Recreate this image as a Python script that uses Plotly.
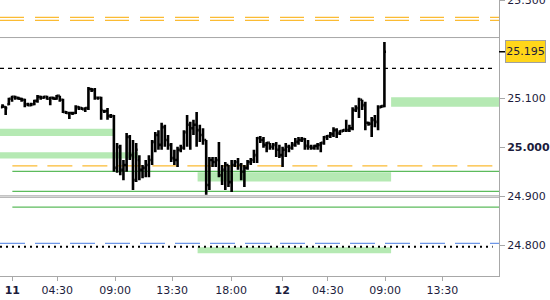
import plotly.graph_objects as go

# ---- data -------------------------------------------------------------
bar_index = list(range(121))
open_ = [25.082, 25.082, 25.088, 25.099, 25.103, 25.101, 25.099, 25.097, 25.088, 25.086,
         25.088, 25.095, 25.103, 25.101, 25.103, 25.099, 25.101, 25.099, 25.105, 25.097,
         25.072, 25.070, 25.070, 25.070, 25.082, 25.080, 25.078, 25.080, 25.119, 25.117,
         25.101, 25.101, 25.074, 25.074, 25.064, 25.064, 24.958, 24.999, 24.954, 24.964,
         25.021, 24.984, 24.933, 24.974, 24.954, 24.958, 24.964, 24.974, 25.011, 25.025,
         25.005, 25.041, 25.015, 25.005, 24.978, 24.974, 24.995, 24.999, 25.031, 25.046,
         25.039, 25.046, 25.035, 25.025, 25.015, 24.923, 24.974, 24.970, 24.974, 24.943,
         24.954, 24.964, 24.929, 24.964, 24.970, 24.964, 24.950, 24.958, 24.970, 24.974,
         24.984, 25.019, 25.015, 25.005, 25.009, 25.001, 25.005, 24.995, 24.984, 24.995,
         25.001, 24.999, 25.005, 25.011, 25.015, 25.017, 25.003, 25.001, 24.999, 25.003,
         25.005, 25.009, 25.021, 25.023, 25.027, 25.035, 25.029, 25.033, 25.035, 25.035,
         25.039, 25.076, 25.080, 25.097, 25.086, 25.050, 25.048, 25.056, 25.052, 25.082,
         25.084]
high = [25.088, 25.084, 25.101, 25.105, 25.105, 25.103, 25.101, 25.099, 25.091, 25.091,
        25.097, 25.107, 25.105, 25.105, 25.105, 25.103, 25.103, 25.107, 25.105, 25.099,
        25.074, 25.072, 25.072, 25.086, 25.084, 25.082, 25.082, 25.123, 25.121, 25.121,
        25.103, 25.103, 25.076, 25.080, 25.068, 25.066, 25.009, 25.005, 24.974, 25.029,
        25.025, 25.015, 25.009, 24.984, 24.964, 24.974, 24.984, 25.015, 25.031, 25.035,
        25.050, 25.046, 25.025, 25.009, 24.995, 25.001, 25.005, 25.035, 25.066, 25.052,
        25.056, 25.072, 25.046, 25.039, 25.015, 24.980, 24.980, 24.980, 25.011, 24.964,
        24.970, 24.964, 24.974, 24.974, 24.978, 24.968, 24.964, 24.974, 24.978, 24.995,
        25.021, 25.023, 25.021, 25.011, 25.009, 25.009, 25.011, 25.005, 25.001, 25.009,
        25.005, 25.011, 25.019, 25.021, 25.021, 25.019, 25.015, 25.005, 25.005, 25.009,
        25.011, 25.023, 25.025, 25.031, 25.041, 25.039, 25.035, 25.037, 25.056, 25.046,
        25.082, 25.086, 25.101, 25.097, 25.093, 25.052, 25.062, 25.066, 25.086, 25.086,
        25.215]
low = [25.080, 25.066, 25.086, 25.093, 25.097, 25.097, 25.093, 25.082, 25.084, 25.084,
       25.086, 25.091, 25.097, 25.099, 25.097, 25.086, 25.097, 25.097, 25.093, 25.070,
       25.068, 25.058, 25.066, 25.068, 25.076, 25.076, 25.072, 25.076, 25.113, 25.097,
       25.097, 25.056, 25.070, 25.056, 25.060, 24.950, 24.948, 24.943, 24.933, 24.950,
       24.974, 24.913, 24.929, 24.933, 24.937, 24.939, 24.939, 24.964, 24.990, 24.995,
       24.995, 25.001, 24.995, 24.970, 24.964, 24.960, 24.990, 24.995, 25.001, 24.995,
       25.025, 25.001, 25.011, 25.005, 24.903, 24.913, 24.960, 24.960, 24.939, 24.923,
       24.913, 24.919, 24.909, 24.960, 24.954, 24.933, 24.919, 24.954, 24.964, 24.968,
       24.968, 25.009, 24.999, 24.990, 24.995, 24.995, 24.980, 24.978, 24.960, 24.980,
       24.990, 24.995, 25.001, 25.005, 25.011, 24.995, 24.995, 24.995, 24.995, 24.995,
       24.990, 25.005, 25.015, 25.019, 25.021, 25.019, 25.025, 25.031, 25.031, 25.031,
       25.035, 25.072, 25.060, 25.076, 25.035, 25.044, 25.021, 25.041, 25.035, 25.080,
       25.082]
close = [25.084, 25.080, 25.099, 25.103, 25.101, 25.099, 25.097, 25.088, 25.086, 25.088,
         25.095, 25.103, 25.101, 25.103, 25.099, 25.101, 25.099, 25.105, 25.097, 25.072,
         25.070, 25.070, 25.070, 25.082, 25.080, 25.078, 25.080, 25.119, 25.117, 25.101,
         25.101, 25.076, 25.074, 25.064, 25.064, 24.958, 25.001, 24.954, 24.964, 25.021,
         24.984, 24.933, 24.995, 24.954, 24.958, 24.964, 24.974, 25.011, 25.025, 25.005,
         25.041, 25.015, 25.005, 24.978, 24.974, 24.995, 24.999, 25.031, 25.046, 25.039,
         25.046, 25.035, 25.025, 25.015, 24.923, 24.974, 24.970, 24.974, 24.943, 24.954,
         24.964, 24.929, 24.964, 24.970, 24.964, 24.950, 24.958, 24.970, 24.974, 24.984,
         25.019, 25.015, 25.005, 25.009, 25.001, 25.005, 24.995, 24.984, 24.995, 25.001,
         24.999, 25.005, 25.011, 25.015, 25.017, 25.003, 25.001, 24.999, 25.003, 25.005,
         25.009, 25.021, 25.023, 25.027, 25.035, 25.029, 25.033, 25.035, 25.035, 25.039,
         25.076, 25.080, 25.097, 25.086, 25.050, 25.048, 25.056, 25.052, 25.082, 25.084,
         25.195]

tick_pos = [3.1, 17.2, 35.4, 53.3, 71.8, 87.9, 102.2, 120.2, 138.2]
tick_text = ["<b>11</b>", "04:30", "09:00", "13:30", "18:00", "<b>12</b>", "04:30", "09:00", "13:30"]

price_ticks = [24.8, 24.9, 25.0, 25.1, 25.3]
price_tick_text = ["24.800", "24.900", "<b>25.000</b>", "25.100", "25.300"]

# zones (light green bands): start/end bar, top/bottom price
zone_start = [-1.0, -1.0, 61.3, 61.3, 122.1]
zone_end = [34.7, 42.6, 122.1, 122.1, 157.0]
zone_top = [25.038, 24.990, 24.949, 24.796, 25.102]
zone_bottom = [25.023, 24.977, 24.930, 24.784, 25.083]

# horizontal levels
orange_levels = [25.265, 25.259]
orange_day_level = 24.962
gray_levels = [25.224, 24.901, 24.898]
green_levels = [24.951, 24.910, 24.878]
black_dash_level = 25.161
blue_level = 24.804
dotted_level = 24.797
day_start_bar = 3.1
line_end_bar = 154.0
last_price = 25.195

x_range = [-0.785, 156.0]
y_range = [24.7374, 25.3006]

# ---- figure -----------------------------------------------------------
fig = go.Figure()

shapes = []
for x0, x1, yt, yb in zip(zone_start, zone_end, zone_top, zone_bottom):
    shapes.append(dict(type="rect", xref="x", yref="y", x0=x0, x1=x1, y0=yb, y1=yt,
                       fillcolor="#b5e9b3", line=dict(width=0), layer="below"))

def hline(y, x0, x1, color, width, dash="solid"):
    shapes.append(dict(type="line", xref="x", yref="y", x0=x0, x1=x1, y0=y, y1=y,
                       line=dict(color=color, width=width, dash=dash), layer="below"))

for lv in orange_levels:
    hline(lv, x_range[0], x_range[1], "#fbbb33", 1.3, "24px,11px")
for lv in gray_levels:
    hline(lv, x_range[0], x_range[1], "#a8a8a8", 1)
hline(black_dash_level, x_range[0], line_end_bar, "#000000", 1.3, "4px,4px")
hline(orange_day_level, day_start_bar, line_end_bar, "#fbbb33", 1.3, "25px,10px")
for lv in green_levels:
    hline(lv, day_start_bar, x_range[1], "#5cbb5c", 1.2)
hline(blue_level, x_range[0], x_range[1], "#6d96e8", 1.3, "25px,10px")
hline(dotted_level, x_range[0], line_end_bar, "#000000", 2, "2px,4px")

# current price tick on the axis
shapes.append(dict(type="line", xref="paper", yref="y", x0=1, x1=1.012, y0=last_price, y1=last_price,
                   line=dict(color="#000000", width=1.5)))

fig.add_trace(go.Ohlc(
    x=bar_index, open=open_, high=high, low=low, close=close,
    increasing=dict(line=dict(color="#000000", width=2.6)),
    decreasing=dict(line=dict(color="#000000", width=2.6)),
    tickwidth=0.5, showlegend=False, hoverinfo="skip"))

fig.update_layout(
    width=550, height=300,
    margin=dict(l=0, r=51, t=0, b=24),
    paper_bgcolor="white", plot_bgcolor="white",
    shapes=shapes,
    font=dict(family="DejaVu Sans", size=11, color="#1c1c3c"),
    xaxis=dict(range=x_range, tickvals=tick_pos, ticktext=tick_text, automargin=False,
               showgrid=False, zeroline=False, rangeslider=dict(visible=False),
               showline=True, linecolor="#a8a8a8", linewidth=1,
               ticks="outside", ticklen=4, tickcolor="#a8a8a8"),
    yaxis=dict(range=y_range, side="right", tickvals=price_ticks, ticktext=price_tick_text,
               showgrid=False, zeroline=False, ticklabeloverflow="allow", automargin=False,
               showline=True, linecolor="#a8a8a8", linewidth=1,
               ticks="outside", ticklen=5, tickcolor="#a8a8a8"),
    annotations=[dict(xref="paper", yref="y", x=1, y=last_price, xanchor="left", yanchor="middle",
                      xshift=6, text="25.195", showarrow=False,
                      font=dict(family="DejaVu Sans", size=11, color="#1c1c3c"),
                      bgcolor="#ffd61a", bordercolor="#a0a0a0", borderwidth=1,
                      borderpad=0, width=39, height=21)],
)

fig.write_html("out.html")
